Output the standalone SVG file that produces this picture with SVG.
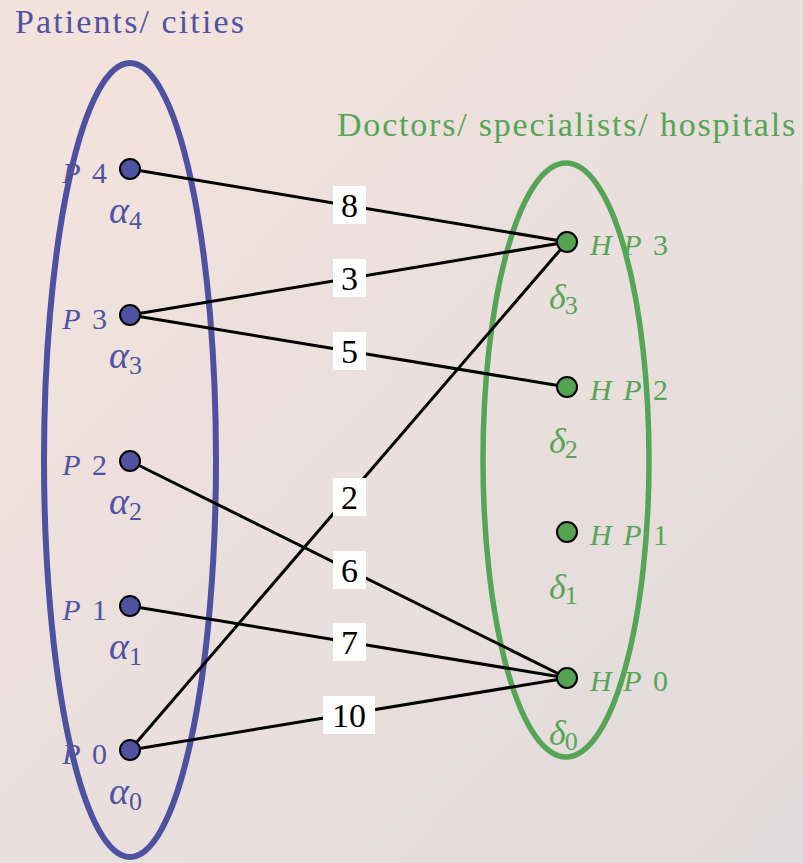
<svg xmlns="http://www.w3.org/2000/svg" width="803" height="863" viewBox="0 0 803 863" font-family="Liberation Serif, Times New Roman, serif">
<defs>
<linearGradient id="bg" x1="0" y1="0" x2="1" y2="1">
<stop offset="0" stop-color="#f4e3dc"/>
<stop offset="1" stop-color="#e0dbdc"/>
</linearGradient>
</defs>
<rect width="803" height="863" fill="url(#bg)"/>
<text x="15" y="33" fill="#5053a3" font-size="34" letter-spacing="2.1" font-family="Liberation Serif">Patients/ cities</text>
<text x="337" y="136" fill="#55a556" font-size="34" letter-spacing="1.8" font-family="Liberation Serif">Doctors/ specialists/ hospitals</text>
<ellipse id="patients-set" cx="130" cy="460" rx="86" ry="397" fill="none" stroke="#4e51a0" stroke-width="6"/>
<ellipse id="hospitals-set" cx="566" cy="460" rx="83" ry="297" fill="none" stroke="#55a556" stroke-width="5.5"/>
<g id="connectors" stroke="#000" stroke-width="3" fill="none">
<line x1="130" y1="169" x2="567" y2="242"/>
<line x1="130" y1="315" x2="567" y2="242"/>
<line x1="130" y1="315" x2="567" y2="387"/>
<line x1="130" y1="750" x2="567" y2="242"/>
<line x1="130" y1="461" x2="567" y2="678"/>
<line x1="130" y1="606" x2="567" y2="678"/>
<line x1="130" y1="750" x2="567" y2="678"/>
</g>
<g id="edge-labels" fill="#fff" stroke="none">
<rect x="333" y="186" width="33" height="38"/><text x="349.5" y="217" fill="#000" font-size="34" text-anchor="middle" font-family="Liberation Serif">8</text>
<rect x="333" y="259" width="33" height="38"/><text x="349.5" y="290" fill="#000" font-size="34" text-anchor="middle" font-family="Liberation Serif">3</text>
<rect x="333" y="332" width="33" height="38"/><text x="349.5" y="363" fill="#000" font-size="34" text-anchor="middle" font-family="Liberation Serif">5</text>
<rect x="333" y="478" width="33" height="38"/><text x="349.5" y="509" fill="#000" font-size="34" text-anchor="middle" font-family="Liberation Serif">2</text>
<rect x="333" y="551" width="33" height="38"/><text x="349.5" y="582" fill="#000" font-size="34" text-anchor="middle" font-family="Liberation Serif">6</text>
<rect x="333" y="623" width="33" height="38"/><text x="349.5" y="654" fill="#000" font-size="34" text-anchor="middle" font-family="Liberation Serif">7</text>
<rect x="323" y="696" width="52" height="38"/><text x="349" y="727" fill="#000" font-size="34" text-anchor="middle" font-family="Liberation Serif">10</text>
</g>
<g id="P4"><circle cx="130" cy="169" r="10" fill="#4f52a1" stroke="#000" stroke-width="2"/><text x="109" y="183" fill="#5053a3" font-size="30" letter-spacing="2" text-anchor="end" font-family="Liberation Serif"><tspan font-style="italic">P</tspan> 4</text><text x="109" y="223" fill="#5053a3" font-size="38" font-style="italic" font-family="Liberation Serif">α<tspan font-size="26" font-style="normal" dy="6">4</tspan></text></g>
<g id="P3"><circle cx="130" cy="315" r="10" fill="#4f52a1" stroke="#000" stroke-width="2"/><text x="109" y="329" fill="#5053a3" font-size="30" letter-spacing="2" text-anchor="end" font-family="Liberation Serif"><tspan font-style="italic">P</tspan> 3</text><text x="109" y="368" fill="#5053a3" font-size="38" font-style="italic" font-family="Liberation Serif">α<tspan font-size="26" font-style="normal" dy="6">3</tspan></text></g>
<g id="P2"><circle cx="130" cy="461" r="10" fill="#4f52a1" stroke="#000" stroke-width="2"/><text x="109" y="475" fill="#5053a3" font-size="30" letter-spacing="2" text-anchor="end" font-family="Liberation Serif"><tspan font-style="italic">P</tspan> 2</text><text x="109" y="514" fill="#5053a3" font-size="38" font-style="italic" font-family="Liberation Serif">α<tspan font-size="26" font-style="normal" dy="6">2</tspan></text></g>
<g id="P1"><circle cx="130" cy="606" r="10" fill="#4f52a1" stroke="#000" stroke-width="2"/><text x="109" y="620" fill="#5053a3" font-size="30" letter-spacing="2" text-anchor="end" font-family="Liberation Serif"><tspan font-style="italic">P</tspan> 1</text><text x="109" y="659" fill="#5053a3" font-size="38" font-style="italic" font-family="Liberation Serif">α<tspan font-size="26" font-style="normal" dy="6">1</tspan></text></g>
<g id="P0"><circle cx="130" cy="750" r="10" fill="#4f52a1" stroke="#000" stroke-width="2"/><text x="109" y="764" fill="#5053a3" font-size="30" letter-spacing="2" text-anchor="end" font-family="Liberation Serif"><tspan font-style="italic">P</tspan> 0</text><text x="109" y="804" fill="#5053a3" font-size="38" font-style="italic" font-family="Liberation Serif">α<tspan font-size="26" font-style="normal" dy="6">0</tspan></text></g>
<g id="HP3"><circle cx="567" cy="242" r="10" fill="#53a353" stroke="#000" stroke-width="2"/><text x="590" y="255" fill="#55a556" font-size="30" letter-spacing="2" font-family="Liberation Serif"><tspan font-style="italic">H P</tspan> 3</text><text x="549" y="309" fill="#55a556" font-size="36" font-style="italic" font-family="Liberation Serif">δ<tspan font-size="26" font-style="normal" dy="5" dx="-1">3</tspan></text></g>
<g id="HP2"><circle cx="567" cy="387" r="10" fill="#53a353" stroke="#000" stroke-width="2"/><text x="590" y="400" fill="#55a556" font-size="30" letter-spacing="2" font-family="Liberation Serif"><tspan font-style="italic">H P</tspan> 2</text><text x="549" y="453" fill="#55a556" font-size="36" font-style="italic" font-family="Liberation Serif">δ<tspan font-size="26" font-style="normal" dy="5" dx="-1">2</tspan></text></g>
<g id="HP1"><circle cx="567" cy="532" r="10" fill="#53a353" stroke="#000" stroke-width="2"/><text x="590" y="545" fill="#55a556" font-size="30" letter-spacing="2" font-family="Liberation Serif"><tspan font-style="italic">H P</tspan> 1</text><text x="549" y="599" fill="#55a556" font-size="36" font-style="italic" font-family="Liberation Serif">δ<tspan font-size="26" font-style="normal" dy="5" dx="-1">1</tspan></text></g>
<g id="HP0"><circle cx="567" cy="678" r="10" fill="#53a353" stroke="#000" stroke-width="2"/><text x="590" y="691" fill="#55a556" font-size="30" letter-spacing="2" font-family="Liberation Serif"><tspan font-style="italic">H P</tspan> 0</text><text x="549" y="745" fill="#55a556" font-size="36" font-style="italic" font-family="Liberation Serif">δ<tspan font-size="26" font-style="normal" dy="5" dx="-1">0</tspan></text></g>
</svg>
